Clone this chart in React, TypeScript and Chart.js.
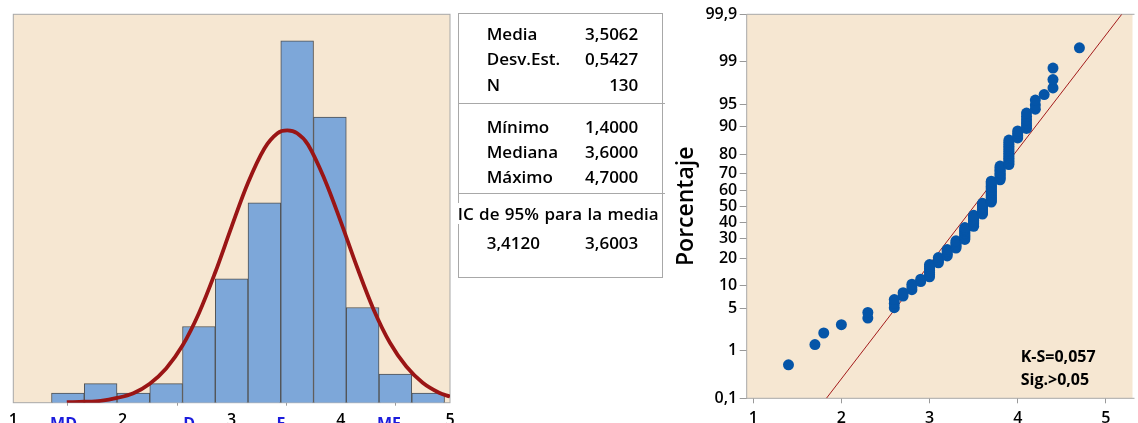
import React, { useEffect, useRef } from 'react';
import { Chart, LinearScale, registerables } from 'chart.js';

// ---- Histogram: bin centres (width 0.3) and frequencies ----
const BIN_CENTERS = [1.5, 1.8, 2.1, 2.4, 2.7, 3.0, 3.3, 3.6, 3.9, 4.2, 4.5, 4.8];
const BIN_COUNTS = [1, 2, 1, 2, 8, 13, 21, 38, 30, 10, 3, 1];

// Fitted normal curve (frequency scale), sampled along x
const CURVE_X = [1.49, 1.65, 1.8, 1.95, 2.1, 2.25, 2.4, 2.55, 2.7, 2.85, 3.0, 3.15, 3.3, 3.42, 3.51, 3.6, 3.7, 3.85, 4.0, 4.15, 4.3, 4.45, 4.6, 4.75, 4.9, 5.0];
const CURVE_Y = [0.05, 0.1, 0.2, 0.5, 1.0, 2.0, 3.6, 6.0, 9.4, 13.7, 18.5, 23.1, 26.7, 28.3, 28.6, 28.3, 27.1, 23.5, 19.0, 14.2, 9.8, 6.3, 3.8, 2.1, 1.05, 0.65];

const HIST_TICKS = [1, 2, 3, 4, 5];
const CATEGORY_LABELS = ['MD', 'D', 'F', 'MF'];
const CATEGORY_POS = [1.46, 2.61, 3.45, 4.44];

// ---- Summary table ----
const STAT_LABELS_TOP = ['Media', 'Desv.Est.', 'N'];
const STAT_VALUES_TOP = ['3,5062', '0,5427', '130'];
const STAT_LABELS_MID = ['Mínimo', 'Mediana', 'Máximo'];
const STAT_VALUES_MID = ['1,4000', '3,6000', '4,7000'];
const CI_TITLE = 'IC de 95% para la media';
const CI_VALUES = ['3,4120', '3,6003'];

// ---- Normal probability plot ----
const OBS_VALUES = [1.4, 1.7, 1.8, 2.0, 2.3, 2.6, 2.7, 2.8, 2.9, 3.0, 3.1, 3.2, 3.3, 3.4, 3.5, 3.6, 3.7, 3.8, 3.9, 4.0, 4.1, 4.2, 4.3, 4.4, 4.7];
const OBS_COUNTS = [1, 1, 1, 1, 2, 3, 2, 3, 2, 7, 4, 5, 6, 10, 10, 10, 18, 11, 15, 4, 6, 3, 1, 3, 1];
const FIT_X = [1.83, 5.18];
const FIT_PCT = [0.1, 99.9];
const PCT_TICKS = [0.1, 1, 5, 10, 20, 30, 40, 50, 60, 70, 80, 90, 95, 99, 99.9];
const PCT_TICK_LABELS = ['0,1', '1', '5', '10', '20', '30', '40', '50', '60', '70', '80', '90', '95', '99', '99,9'];
const PP_X_TICKS = [1, 2, 3, 4, 5];
const KS_LINES = ['K-S=0,057', 'Sig.>0,05'];

const BEIGE = '#F6E7D2';
const FRAME = '#A8A8A8';
const FONT = '"Open Sans", "Noto Sans", sans-serif';
const TEXT_WEIGHT = 600;

// Inverse standard normal CDF (Acklam)
function probit(p: number): number {
  const a = [-39.69683028665376, 220.9460984245205, -275.9285104469687, 138.357751867269, -30.66479806614716, 2.506628277459239];
  const b = [-54.47609879822406, 161.5858368580409, -155.6989798598866, 66.80131188771972, -13.28068155288572];
  const c = [-0.007784894002430293, -0.3223964580411365, -2.400758277161838, -2.549732539343734, 4.374664141464968, 2.938163982698783];
  const d = [0.007784695709041462, 0.3224671290700398, 2.445134137142996, 3.754408661907416];
  const pl = 0.02425;
  if (p < pl) {
    const q = Math.sqrt(-2 * Math.log(p));
    return (((((c[0] * q + c[1]) * q + c[2]) * q + c[3]) * q + c[4]) * q + c[5]) / ((((d[0] * q + d[1]) * q + d[2]) * q + d[3]) * q + 1);
  }
  if (p <= 1 - pl) {
    const q = p - 0.5;
    const r = q * q;
    return ((((((a[0] * r + a[1]) * r + a[2]) * r + a[3]) * r + a[4]) * r + a[5]) * q) / (((((b[0] * r + b[1]) * r + b[2]) * r + b[3]) * r + b[4]) * r + 1);
  }
  const q = Math.sqrt(-2 * Math.log(1 - p));
  return -(((((c[0] * q + c[1]) * q + c[2]) * q + c[3]) * q + c[4]) * q + c[5]) / ((((d[0] * q + d[1]) * q + d[2]) * q + d[3]) * q + 1);
}

function normCdf(z: number): number {
  const t = 1 / (1 + 0.3275911 * Math.abs(z) / Math.SQRT2);
  const y = 1 - (((((1.061405429 * t - 1.453152027) * t) + 1.421413741) * t - 0.284496736) * t + 0.254829592) * t * Math.exp(-z * z / 2);
  return z >= 0 ? (1 + y) / 2 : (1 - y) / 2;
}

// Percent axis spaced by normal quantiles
class ProbabilityScale extends LinearScale {
  static id = 'probability';
  static defaults = {};
  getPixelForValue(value: number) {
    const lo = probit(this.min / 100);
    const hi = probit(this.max / 100);
    const v = Math.min(Math.max(value, 1e-6), 100 - 1e-6);
    return this.getPixelForDecimal((probit(v / 100) - lo) / (hi - lo));
  }
  getValueForPixel(pixel: number) {
    const lo = probit(this.min / 100);
    const hi = probit(this.max / 100);
    return normCdf(lo + this.getDecimalForPixel(pixel) * (hi - lo)) * 100;
  }
}

Chart.register(...registerables, ProbabilityScale);

// Median-rank plotting positions for the sorted observations
function probabilityPoints() {
  const n = OBS_COUNTS.reduce((s, c) => s + c, 0);
  const pts: { x: number; y: number }[] = [];
  let rank = 0;
  OBS_VALUES.forEach((v, i) => {
    for (let k = 0; k < OBS_COUNTS[i]; k++) {
      rank += 1;
      pts.push({ x: v, y: ((rank - 0.3) / (n + 0.4)) * 100 });
    }
  });
  return pts;
}

const histDecor = {
  id: 'histDecor',
  beforeDatasetsDraw(chart: any) {
    const { ctx, chartArea: a } = chart;
    ctx.save();
    ctx.fillStyle = BEIGE;
    ctx.fillRect(a.left, a.top, a.right - a.left, a.bottom - a.top);
    ctx.strokeStyle = FRAME;
    ctx.lineWidth = 1;
    ctx.strokeRect(a.left, a.top, a.right - a.left, a.bottom - a.top);
    ctx.restore();
  },
  afterDraw(chart: any) {
    const { ctx } = chart;
    const xs = chart.scales.x;
    ctx.save();
    ctx.textAlign = 'center';
    ctx.textBaseline = 'alphabetic';
    ctx.fillStyle = '#000';
    ctx.font = `${TEXT_WEIGHT} 16px ${FONT}`;
    HIST_TICKS.forEach((t) => ctx.fillText(String(t), xs.getPixelForValue(t), 424.5));
    ctx.fillStyle = '#1C1CDC';
    ctx.font = `bold 16px ${FONT}`;
    CATEGORY_LABELS.forEach((lab, i) => ctx.fillText(lab, xs.getPixelForValue(CATEGORY_POS[i]), 428.5));
    ctx.restore();
  },
};

const ppDecor = {
  id: 'ppDecor',
  beforeDatasetsDraw(chart: any) {
    const { ctx, chartArea: a } = chart;
    ctx.save();
    ctx.fillStyle = BEIGE;
    ctx.fillRect(a.left, a.top, a.right - a.left, a.bottom - a.top);
    ctx.strokeStyle = FRAME;
    ctx.lineWidth = 1;
    ctx.beginPath();
    ctx.moveTo(a.right + 2, a.top);
    ctx.lineTo(a.left, a.top);
    ctx.lineTo(a.left, a.bottom);
    ctx.lineTo(a.right + 2, a.bottom);
    ctx.stroke();
    ctx.restore();
  },
  afterDraw(chart: any) {
    const { ctx } = chart;
    ctx.save();
    ctx.fillStyle = '#000';
    ctx.font = `bold 16px ${FONT}`;
    ctx.textAlign = 'left';
    ctx.textBaseline = 'alphabetic';
    ctx.fillText(KS_LINES[0], 350.7, 361.5);
    ctx.fillText(KS_LINES[1], 350.7, 385);
    ctx.restore();
  },
};

function StatRow({ label, value, y }: { label: string; value: string; y: number }) {
  return (
    <>
      <div style={{ position: 'absolute', left: 486.7, top: y - 11, lineHeight: '21px', whiteSpace: 'nowrap' }}>{label}</div>
      <div style={{ position: 'absolute', left: 438.3, width: 200, top: y - 11, lineHeight: '21px', textAlign: 'right', whiteSpace: 'nowrap' }}>{value}</div>
    </>
  );
}

export default function App() {
  const histRef = useRef<HTMLCanvasElement>(null);
  const ppRef = useRef<HTMLCanvasElement>(null);

  useEffect(() => {
    const hist = new Chart(histRef.current as HTMLCanvasElement, {
      type: 'bar',
      data: {
        datasets: [
          {
            type: 'line',
            data: CURVE_X.map((x, i) => ({ x, y: CURVE_Y[i] })),
            borderColor: '#9A1515',
            borderWidth: 3.8,
            pointRadius: 0,
            tension: 0.35,
            order: 0,
          } as any,
          {
            type: 'bar',
            data: BIN_CENTERS.map((x, i) => ({ x, y: BIN_COUNTS[i] })),
            backgroundColor: '#7DA7D9',
            borderColor: '#515151',
            borderWidth: 1,
            barPercentage: 1,
            categoryPercentage: 1,
            order: 1,
          } as any,
        ],
      },
      options: {
        responsive: false,
        animation: false,
        devicePixelRatio: 1,
        events: [],
        layout: { padding: { left: 13.3, top: 14.3, right: 6, bottom: 0 } },
        plugins: { legend: { display: false }, tooltip: { enabled: false } },
        scales: {
          x: {
            type: 'linear',
            min: 1,
            max: 5,
            offset: false,
            bounds: 'data',
            afterBuildTicks: (s: any) => { s.ticks = HIST_TICKS.map((v) => ({ value: v })); },
            afterFit: (s: any) => { s.height = 20.3; },
            ticks: { display: false },
            grid: { drawOnChartArea: false, drawTicks: true, tickLength: 3, color: '#999' },
            border: { display: false },
          },
          y: { display: false, min: 0, max: 40.8 },
        },
      } as any,
      plugins: [histDecor],
    });

    const pp = new Chart(ppRef.current as HTMLCanvasElement, {
      type: 'scatter',
      data: {
        datasets: [
          {
            type: 'scatter',
            data: probabilityPoints(),
            backgroundColor: '#0555A8',
            borderWidth: 0,
            pointRadius: 5.5,
            order: 0,
          } as any,
          {
            type: 'line',
            data: FIT_X.map((x, i) => ({ x, y: FIT_PCT[i] })),
            borderColor: '#A31B1B',
            borderWidth: 1,
            pointRadius: 0,
            order: 1,
          } as any,
        ],
      },
      options: {
        responsive: false,
        animation: false,
        devicePixelRatio: 1,
        events: [],
        layout: { padding: { left: 0, top: 14.3, right: 0, bottom: 0 } },
        plugins: { legend: { display: false }, tooltip: { enabled: false } },
        scales: {
          x: {
            type: 'linear',
            min: 0.926,
            max: 5.302,
            bounds: 'data',
            afterBuildTicks: (s: any) => { s.ticks = PP_X_TICKS.map((v) => ({ value: v })); },
            afterFit: (s: any) => { s.height = 24.7; },
            ticks: { color: '#000', font: { family: FONT, size: 16, weight: TEXT_WEIGHT }, padding: 5.5, maxRotation: 0 },
            grid: { drawOnChartArea: false, drawTicks: true, tickLength: 5, color: '#999' },
            border: { display: false },
          },
          y: {
            type: 'probability',
            min: 0.1,
            max: 99.9,
            bounds: 'data',
            afterBuildTicks: (s: any) => { s.ticks = PCT_TICKS.map((v) => ({ value: v })); },
            afterFit: (s: any) => { s.width = 76.7; },
            ticks: {
              color: '#000',
              font: { family: FONT, size: 16, weight: TEXT_WEIGHT },
              padding: 2.5,
              callback: (_v: any, i: number) => PCT_TICK_LABELS[i],
            },
            grid: { drawOnChartArea: false, drawTicks: true, tickLength: 7, color: '#999' },
            border: { display: false },
            title: {
              display: true,
              text: 'Porcentaje',
              color: '#000',
              font: { family: FONT, size: 23, weight: TEXT_WEIGHT },
              padding: { top: 2.2, bottom: 0 },
            },
          },
        },
      } as any,
      plugins: [ppDecor],
    });

    return () => {
      hist.destroy();
      pp.destroy();
    };
  }, []);

  const topRows = [33.5, 58.5, 84.5];
  const midRows = [126.5, 151.5, 176.5];

  return (
    <div style={{ position: 'fixed', left: 0, top: 0, width: 1138, height: 423, overflow: 'hidden', background: '#fff', fontFamily: FONT, color: '#000' }}>
      <canvas ref={histRef} width={456} height={423} style={{ position: 'absolute', left: 0, top: 0, width: 456, height: 423 }} />
      <div style={{ position: 'absolute', left: 0, top: 0, width: 1138, height: 423, fontSize: 17, fontWeight: TEXT_WEIGHT }}>
        <div style={{ position: 'absolute', left: 458, top: 12.5, width: 205, height: 265, border: `1px solid ${FRAME}`, boxSizing: 'border-box' }} />
        <div style={{ position: 'absolute', left: 458, top: 102.5, width: 207, height: 1, background: FRAME }} />
        <div style={{ position: 'absolute', left: 458, top: 192.5, width: 207, height: 1, background: FRAME }} />
        {STAT_LABELS_TOP.map((l, i) => <StatRow key={l} label={l} value={STAT_VALUES_TOP[i]} y={topRows[i]} />)}
        {STAT_LABELS_MID.map((l, i) => <StatRow key={l} label={l} value={STAT_VALUES_MID[i]} y={midRows[i]} />)}
        <div style={{ position: 'absolute', left: 457.7, top: 214 - 11, lineHeight: '21px', whiteSpace: 'nowrap', background: '#fff', wordSpacing: 1 }}>{CI_TITLE}</div>
        <StatRow label={CI_VALUES[0]} value={CI_VALUES[1]} y={243} />
      </div>
      <canvas ref={ppRef} width={468} height={423} style={{ position: 'absolute', left: 670, top: 0, width: 468, height: 423 }} />
    </div>
  );
}
